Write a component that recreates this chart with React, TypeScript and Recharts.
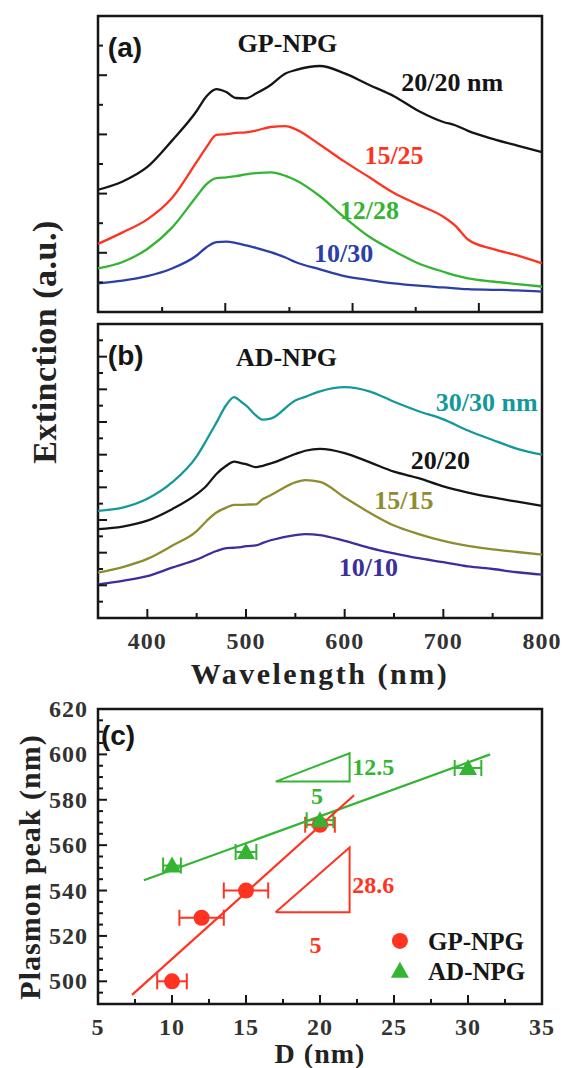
import React from 'react';
import {
  LineChart, Line, XAxis, YAxis, ReferenceArea, ReferenceDot,
  ScatterChart, Scatter, ErrorBar,
} from 'recharts';

const INK = '#161616';
const TICK_INK = '#333';
const SERIF = '"Liberation Serif", "Times New Roman", serif';
const SANS = '"Liberation Sans", Arial, sans-serif';

// (a) GP-NPG extinction spectra (a.u.)
const WL_A = [350, 375, 400, 425, 450, 460, 470, 480, 490, 500, 510, 525, 540, 550, 575, 600, 625, 650, 675, 700, 712, 725, 750, 775, 800];
const GP_20_20 = [4.13, 4.41, 4.90, 5.79, 6.79, 7.29, 7.53, 7.43, 7.23, 7.22, 7.38, 7.67, 8.06, 8.17, 8.31, 8.06, 7.67, 7.29, 6.79, 6.42, 6.31, 6.12, 5.85, 5.62, 5.40];
const GP_15_25 = [2.30, 2.69, 3.13, 3.85, 5.07, 5.57, 5.98, 6.01, 6.05, 6.07, 6.13, 6.25, 6.28, 6.18, 5.65, 5.08, 4.55, 4.02, 3.62, 3.22, 2.92, 2.45, 2.13, 1.91, 1.64];
const GP_12_28 = [1.47, 1.69, 2.13, 2.85, 3.91, 4.32, 4.52, 4.55, 4.59, 4.65, 4.69, 4.72, 4.60, 4.46, 3.91, 3.19, 2.54, 2.06, 1.64, 1.36, 1.24, 1.14, 1.03, 0.94, 0.86];
const GP_10_30 = [0.97, 1.06, 1.21, 1.47, 1.91, 2.19, 2.36, 2.38, 2.33, 2.25, 2.17, 2.02, 1.84, 1.69, 1.44, 1.21, 1.08, 0.97, 0.89, 0.83, 0.80, 0.77, 0.75, 0.73, 0.69];

// (b) AD-NPG extinction spectra (a.u.)
const WL_B = [350, 375, 400, 425, 450, 460, 470, 480, 488, 495, 500, 510, 517, 525, 550, 560, 575, 600, 625, 650, 675, 700, 725, 750, 775, 800];
const AD_30_30 = [3.28, 3.38, 3.65, 4.15, 4.95, 5.45, 5.98, 6.52, 6.76, 6.62, 6.51, 6.20, 6.07, 6.10, 6.66, 6.77, 6.94, 7.07, 6.94, 6.62, 6.33, 6.08, 5.74, 5.45, 5.18, 5.00];
const AD_20_20 = [2.72, 2.80, 2.98, 3.33, 3.79, 4.05, 4.41, 4.66, 4.79, 4.74, 4.71, 4.62, 4.66, 4.73, 5.02, 5.12, 5.18, 5.05, 4.77, 4.48, 4.28, 4.03, 3.84, 3.69, 3.56, 3.43];
const AD_15_15 = [1.39, 1.56, 1.81, 2.21, 2.66, 2.97, 3.23, 3.38, 3.46, 3.46, 3.47, 3.48, 3.64, 3.76, 4.15, 4.22, 4.17, 3.69, 3.23, 2.83, 2.57, 2.36, 2.21, 2.10, 2.02, 1.94];
const AD_10_10 = [1.03, 1.14, 1.28, 1.54, 1.79, 1.92, 2.05, 2.14, 2.15, 2.17, 2.20, 2.22, 2.30, 2.38, 2.54, 2.57, 2.54, 2.36, 2.15, 1.98, 1.83, 1.71, 1.58, 1.50, 1.40, 1.33];

// (c) plasmon peak vs ligament size D
const GP_D = [10, 12, 15, 20];
const GP_PEAK = [500, 528, 540, 569];
const GP_DERR = [1, 1.5, 1.5, 1];
const AD_D = [10, 15, 20, 30];
const AD_PEAK = [551, 557, 571, 594];
const AD_DERR = [0.6, 0.7, 0.9, 0.9];
const GP_FIT = [[7.3, 494], [22.3, 582]];
const AD_FIT = [[8.1, 544.5], [31.5, 600]];
const GP_SLOPE = [[17, 530.4], [22, 530.4], [22, 559], [17, 530.4]];
const AD_SLOPE = [[17, 588], [22, 588], [22, 600.5], [17, 588]];

// ticks
const A_XTICKS = [415, 479, 544, 608, 672, 736];
const A_XMAJOR = [479, 608, 736];
const A_YTICKS = [1, 2, 3, 4, 5, 6, 7, 8, 9];
const A_YMAJOR = [2, 4, 6, 8];
const B_XTICKS = [400, 450, 500, 550, 600, 650, 700, 750, 800];
const B_XMAJOR = [400, 500, 600, 700, 800];
const B_YTICKS = [0.5, 1, 1.5, 2, 2.5, 3, 3.5, 4, 4.5, 5, 5.5, 6, 6.5, 7, 7.5, 8, 8.5];
const B_YMAJOR = [1, 2, 3, 4, 5, 6, 7, 8];
const C_XTICKS = [5, 7.5, 10, 12.5, 15, 17.5, 20, 22.5, 25, 27.5, 30, 32.5, 35];
const C_XMAJOR = [5, 10, 15, 20, 25, 30, 35];
const C_YTICKS = [495, 500, 505, 510, 515, 520, 525, 530, 535, 540, 545, 550, 555, 560, 565, 570, 575, 580, 585, 590, 595, 600, 605, 610, 615, 620];
const C_YMAJOR = [500, 520, 540, 560, 580, 600, 620];

const C = {
  black: '#151515',
  red: '#ff3322',
  green: '#33b533',
  blue: '#2b3fa8',
  teal: '#14999a',
  olive: '#8e8d2e',
  purple: '#3b2f9c',
};

const A_NOTES = [
  { text: '(a)', x: 360, y: 8.92, color: INK, sans: true },
  { text: 'GP-NPG', x: 542, y: 9.09, color: INK },
  { text: '20/20 nm', x: 709, y: 7.77, color: C.black },
  { text: '15/25', x: 650, y: 5.3, color: C.red },
  { text: '12/28', x: 625, y: 3.45, color: C.green },
  { text: '10/30', x: 599, y: 1.99, color: C.blue },
];
const B_NOTES = [
  { text: '(b)', x: 360, y: 8.02, color: INK, sans: true },
  { text: 'AD-NPG', x: 541, y: 7.99, color: INK },
  { text: '30/30 nm', x: 744, y: 6.61, color: C.teal },
  { text: '20/20', x: 697, y: 4.84, color: C.black },
  { text: '15/15', x: 660, y: 3.61, color: C.olive },
  { text: '10/10', x: 624, y: 1.56, color: C.purple },
];
const C_NOTES = [
  { text: '(c)', x: 5.2, y: 607.7, color: INK, sans: true },
  { text: '12.5', x: 23.6, y: 594.5, color: C.green },
  { text: '5', x: 19.8, y: 582, color: C.green },
  { text: '28.6', x: 23.6, y: 542.8, color: C.red },
  { text: '5', x: 19.7, y: 516, color: C.red },
];

const dataA = WL_A.map((w, i) => ({ w, g20: GP_20_20[i], g15: GP_15_25[i], g12: GP_12_28[i], g10: GP_10_30[i] }));
const dataB = WL_B.map((w, i) => ({ w, a30: AD_30_30[i], a20: AD_20_20[i], a15: AD_15_15[i], a10: AD_10_10[i] }));
const gpPts = GP_D.map((x, i) => ({ x, y: GP_PEAK[i], err: GP_DERR[i] }));
const adPts = AD_D.map((x, i) => ({ x, y: AD_PEAK[i], err: AD_DERR[i] }));
const toXY = (pts: number[][]) => pts.map(([x, y]) => ({ x, y }));

const tickText = { fontFamily: SERIF, fontWeight: 700, fontSize: 24, fill: TICK_INK, letterSpacing: 1 };

// axes are 1px thick so recharts still renders them; ticks point inward
function bottomTick(majors: number[], labelled: boolean) {
  return (p: any) => {
    const v = p.payload.value;
    const major = majors.includes(v);
    return (
      <g>
        <line x1={p.x} y1={p.y} x2={p.x} y2={p.y - (major ? 9 : 5)} stroke={INK} strokeWidth={2} />
        {labelled && major && (
          <text x={p.x} y={p.y + 31} textAnchor="middle" style={tickText}>{v}</text>
        )}
      </g>
    );
  };
}

function leftTick(majors: number[], labelled: boolean) {
  return (p: any) => {
    const v = p.payload.value;
    const major = majors.includes(v);
    return (
      <g>
        <line x1={p.x} y1={p.y} x2={p.x + (major ? 9 : 5)} y2={p.y} stroke={INK} strokeWidth={2} />
        {labelled && major && (
          <text x={p.x - 10} y={p.y + 8} textAnchor="end" style={tickText}>{v}</text>
        )}
      </g>
    );
  };
}

function noteShape(text: string, color: string, sans?: boolean, size = 26) {
  return (p: any) => (
    <text
      x={p.cx}
      y={p.cy + size * 0.35}
      fill={color}
      fontSize={sans ? 28 : size}
      fontWeight="bold"
      fontFamily={sans ? SANS : SERIF}
      textAnchor={sans ? 'start' : 'middle'}
    >
      {text}
    </text>
  );
}

const dotShape = (color: string) => (p: any) => <circle cx={p.cx} cy={p.cy} r={8} fill={color} />;
const triShape = (color: string) => (p: any) => (
  <polygon points={`${p.cx},${p.cy - 9} ${p.cx - 9},${p.cy + 7} ${p.cx + 9},${p.cy + 7}`} fill={color} />
);
const noShape = () => <g />;

export default function App() {
  return (
    <div style={{ position: 'absolute', left: 0, top: 0, width: 563, height: 1068, background: '#fff' }}>
      <style>{'body{margin:0}'}</style>

      {/* (a) GP-NPG */}
      <div style={{ position: 'absolute', left: 0, top: 0 }}>
        <LineChart width={563} height={330} data={dataA} margin={{ top: 16, right: 21, bottom: 17, left: 97 }}>
          <XAxis dataKey="w" type="number" domain={[350, 800]} ticks={A_XTICKS} interval={0} height={1}
            axisLine={false} tickLine={false} tickSize={0} tickMargin={0} tick={bottomTick(A_XMAJOR, false)} />
          <YAxis type="number" domain={[0, 10]} ticks={A_YTICKS} interval={0} width={1}
            axisLine={false} tickLine={false} tickSize={0} tickMargin={0} tick={leftTick(A_YMAJOR, false)} />
          <ReferenceArea x1={350} x2={800} y1={0} y2={10} fill="none" stroke={INK} strokeWidth={2.5} />
          <Line dataKey="g20" stroke={C.black} strokeWidth={2.3} dot={false} type="monotone" isAnimationActive={false} />
          <Line dataKey="g15" stroke={C.red} strokeWidth={2.3} dot={false} type="monotone" isAnimationActive={false} />
          <Line dataKey="g12" stroke={C.green} strokeWidth={2.3} dot={false} type="monotone" isAnimationActive={false} />
          <Line dataKey="g10" stroke={C.blue} strokeWidth={2.3} dot={false} type="monotone" isAnimationActive={false} />
          {A_NOTES.map(n => (
            <ReferenceDot key={n.text} x={n.x} y={n.y} r={0} shape={noteShape(n.text, n.color, n.sans)} />
          ))}
        </LineChart>
      </div>

      {/* (b) AD-NPG */}
      <div style={{ position: 'absolute', left: 0, top: 300 }}>
        <LineChart width={563} height={360} data={dataB} margin={{ top: 24, right: 21, bottom: 41, left: 97 }}>
          <XAxis dataKey="w" type="number" domain={[350, 800]} ticks={B_XTICKS} interval={0} height={1}
            axisLine={false} tickLine={false} tickSize={0} tickMargin={0} tick={bottomTick(B_XMAJOR, true)} />
          <YAxis type="number" domain={[0, 9]} ticks={B_YTICKS} interval={0} width={1}
            axisLine={false} tickLine={false} tickSize={0} tickMargin={0} tick={leftTick(B_YMAJOR, false)} />
          <ReferenceArea x1={350} x2={800} y1={0} y2={9} fill="none" stroke={INK} strokeWidth={2.5} />
          <Line dataKey="a30" stroke={C.teal} strokeWidth={2.3} dot={false} type="monotone" isAnimationActive={false} />
          <Line dataKey="a20" stroke={C.black} strokeWidth={2.3} dot={false} type="monotone" isAnimationActive={false} />
          <Line dataKey="a15" stroke={C.olive} strokeWidth={2.3} dot={false} type="monotone" isAnimationActive={false} />
          <Line dataKey="a10" stroke={C.purple} strokeWidth={2.3} dot={false} type="monotone" isAnimationActive={false} />
          {B_NOTES.map(n => (
            <ReferenceDot key={n.text} x={n.x} y={n.y} r={0} shape={noteShape(n.text, n.color, n.sans)} />
          ))}
        </LineChart>
      </div>

      {/* (c) plasmon peak vs D */}
      <div style={{ position: 'absolute', left: 0, top: 690 }}>
        <ScatterChart width={563} height={360} margin={{ top: 19, right: 21, bottom: 45, left: 97 }}>
          <XAxis dataKey="x" type="number" domain={[5, 35]} ticks={C_XTICKS} interval={0} height={1}
            axisLine={false} tickLine={false} tickSize={0} tickMargin={0} tick={bottomTick(C_XMAJOR, true)} />
          <YAxis dataKey="y" type="number" domain={[490, 620]} ticks={C_YTICKS} interval={0} width={1}
            axisLine={false} tickLine={false} tickSize={0} tickMargin={0} tick={leftTick(C_YMAJOR, true)} />
          <ReferenceArea x1={5} x2={35} y1={490} y2={620} fill="none" stroke={INK} strokeWidth={2.5} />
          <Scatter data={toXY(AD_FIT)} line={{ stroke: C.green, strokeWidth: 2.2 }} shape={noShape} isAnimationActive={false} />
          <Scatter data={toXY(GP_FIT)} line={{ stroke: C.red, strokeWidth: 2.2 }} shape={noShape} isAnimationActive={false} />
          <Scatter data={toXY(AD_SLOPE)} line={{ stroke: C.green, strokeWidth: 2 }} shape={noShape} isAnimationActive={false} />
          <Scatter data={toXY(GP_SLOPE)} line={{ stroke: C.red, strokeWidth: 2 }} shape={noShape} isAnimationActive={false} />
          <Scatter data={gpPts} shape={dotShape(C.red)} isAnimationActive={false}>
            <ErrorBar dataKey="err" direction="x" width={8} stroke={C.red} strokeWidth={2} />
          </Scatter>
          <Scatter data={adPts} shape={triShape(C.green)} isAnimationActive={false}>
            <ErrorBar dataKey="err" direction="x" width={8} stroke={C.green} strokeWidth={2} />
          </Scatter>
          {C_NOTES.map((n, i) => (
            <ReferenceDot key={i} x={n.x} y={n.y} r={0} shape={noteShape(n.text, n.color, n.sans, 24)} />
          ))}
          <ReferenceDot x={25.4} y={517.8} r={0} shape={dotShape(C.red)} />
          <ReferenceDot x={25.4} y={504.6} r={0} shape={triShape(C.green)} />
          <ReferenceDot x={27.3} y={517.8} r={0} shape={(p: any) => (
            <text x={p.cx} y={p.cy + 9} fontFamily={SERIF} fontWeight="bold" fontSize={25} fill={INK}>GP-NPG</text>
          )} />
          <ReferenceDot x={27.3} y={504.6} r={0} shape={(p: any) => (
            <text x={p.cx} y={p.cy + 9} fontFamily={SERIF} fontWeight="bold" fontSize={25} fill={INK}>AD-NPG</text>
          )} />
        </ScatterChart>
      </div>

      {/* axis titles */}
      <svg width={563} height={1068} style={{ position: 'absolute', left: 0, top: 0, pointerEvents: 'none' }}>
        <text x={56} y={342} transform="rotate(-90 56 342)" textAnchor="middle" fontFamily={SERIF}
          fontWeight="bold" fontSize={34} letterSpacing={0.5} fill="#222">Extinction (a.u.)</text>
        <text x={320} y={684} textAnchor="middle" fontFamily={SERIF} fontWeight="bold" fontSize={30}
          letterSpacing={2.5} fill="#222">Wavelength (nm)</text>
        <text x={40} y={867} transform="rotate(-90 40 867)" textAnchor="middle" fontFamily={SERIF}
          fontWeight="bold" fontSize={30} letterSpacing={1} fill="#222">Plasmon peak (nm)</text>
        <text x={320} y={1063} textAnchor="middle" fontFamily={SERIF} fontWeight="bold" fontSize={28}
          letterSpacing={1} fill="#222">D (nm)</text>
      </svg>
    </div>
  );
}
